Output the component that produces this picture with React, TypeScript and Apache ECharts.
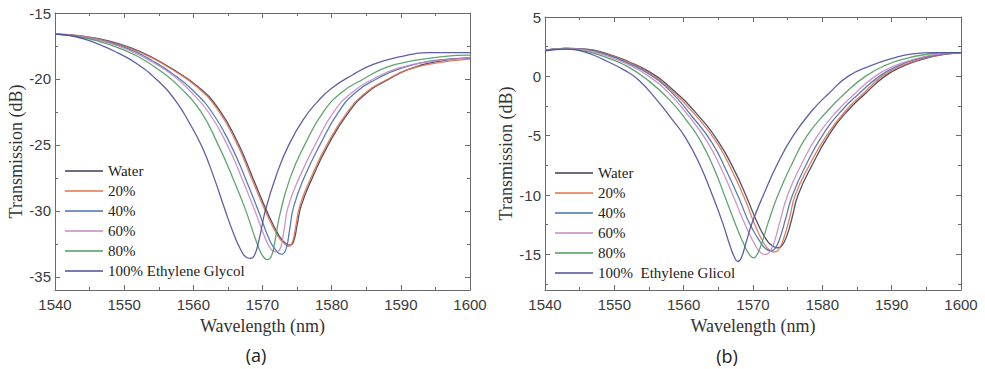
import React, { useEffect, useRef } from "react";
import * as echarts from "echarts";

// ---------- data (wavelength nm, transmission dB) ----------
const namesA = ["Water", "20%", "40%", "60%", "80%", "100% Ethylene Glycol"];
const namesB = ["Water", "20%", "40%", "60%", "80%", "100%  Ethylene Glicol"];
const colors = ["#3d3d55", "#e2704a", "#4670b0", "#c68ac0", "#4f9a5e", "#4e4e9a"];

const xTicks = [1540, 1550, 1560, 1570, 1580, 1590, 1600];
const yMajorA = [-35, -30, -25, -20, -15];
const yMinorA = [-35, -32.5, -30, -27.5, -25, -22.5, -20, -17.5, -15];
const yMajorB = [-15, -10, -5, 0, 5];
const yMinorB = [-17.5, -15, -12.5, -10, -7.5, -5, -2.5, 0, 2.5, 5];

// Panel (a)
const waterA: [number, number][] = [[1540,-16.6],[1544,-16.75],[1548,-17.15],[1551,-17.65],[1554,-18.35],[1557,-19.25],[1560.7,-20.6],[1563.7,-22.3],[1566.4,-24.8],[1568.6,-27.5],[1570.6,-30.0],[1572.4,-31.9],[1573.4,-32.5],[1574.0,-32.6],[1574.5,-32.3],[1575.0,-31.1],[1575.6,-29.6],[1577.2,-27.5],[1579.5,-25.0],[1582.5,-22.5],[1585.2,-21.0],[1588,-20.1],[1591,-19.3],[1595,-18.7],[1600,-18.4]];
const p20A: [number, number][] = [[1540,-16.6],[1544,-16.75],[1548,-17.2],[1551,-17.7],[1554,-18.4],[1557,-19.3],[1560.5,-20.6],[1563.5,-22.3],[1566.2,-24.8],[1568.4,-27.5],[1570.4,-30.0],[1572.2,-31.9],[1573.2,-32.5],[1573.8,-32.7],[1574.3,-32.4],[1574.8,-31.2],[1575.4,-29.6],[1577.0,-27.5],[1579.3,-25.0],[1582.3,-22.5],[1585,-21.0],[1587.8,-20.1],[1591,-19.3],[1595,-18.8],[1600,-18.5]];
const p40A: [number, number][] = [[1540,-16.6],[1544,-16.8],[1548,-17.25],[1551,-17.8],[1554,-18.6],[1557,-19.6],[1560,-20.9],[1562.8,-22.6],[1565.4,-25.0],[1567.5,-27.5],[1569.4,-30.0],[1571.1,-32.3],[1572.1,-33.1],[1572.8,-33.3],[1573.4,-32.9],[1573.9,-31.5],[1574.5,-29.7],[1576.0,-27.5],[1578.3,-25.0],[1581,-22.5],[1583.5,-21.0],[1586.5,-20.0],[1590,-19.2],[1595,-18.6],[1600,-18.4]];
const p60A: [number, number][] = [[1540,-16.6],[1544,-16.8],[1548,-17.3],[1551,-17.9],[1554,-18.7],[1557,-19.7],[1559.5,-20.9],[1562.3,-22.6],[1564.9,-25.0],[1567.0,-27.5],[1568.9,-30.0],[1570.5,-32.2],[1571.4,-33.0],[1572.0,-33.1],[1572.6,-32.8],[1573.1,-31.5],[1573.7,-29.7],[1575.3,-27.5],[1577.6,-25.0],[1580.3,-22.5],[1583,-21.0],[1586,-20.0],[1589.5,-19.2],[1594,-18.7],[1600,-18.4]];
const p80A: [number, number][] = [[1540,-16.6],[1543,-16.75],[1546,-17.1],[1549,-17.6],[1552,-18.3],[1555,-19.3],[1558,-20.6],[1561,-22.4],[1563.6,-25.0],[1565.7,-27.5],[1567.6,-30.0],[1569.1,-32.3],[1570.0,-33.4],[1570.7,-33.7],[1571.3,-33.4],[1571.8,-32.3],[1572.5,-30.3],[1574,-27.5],[1576.1,-25.0],[1578.8,-22.5],[1581.5,-21.0],[1584.6,-20.0],[1588,-19.1],[1592,-18.6],[1596,-18.3],[1600,-18.2]];
const p100A: [number, number][] = [[1540,-16.6],[1543,-16.8],[1546,-17.3],[1549,-18.0],[1552,-18.9],[1555,-20.2],[1557.5,-21.7],[1559.5,-23.4],[1561.3,-25.2],[1563,-27.5],[1564.5,-29.8],[1565.8,-31.7],[1566.9,-33.0],[1567.6,-33.5],[1568.2,-33.6],[1568.8,-33.4],[1569.5,-32.2],[1570.4,-30.0],[1572,-27.3],[1573.8,-25.0],[1576,-23.0],[1578,-21.7],[1580,-20.7],[1583,-19.7],[1586,-18.9],[1590,-18.3],[1594,-18.0],[1600,-18.0]];

// Panel (b)
const waterB: [number, number][] = [[1540,2.2],[1543,2.35],[1546,2.3],[1549,1.9],[1552,1.25],[1555,0.4],[1558,-0.9],[1561.8,-3.1],[1565.0,-5.5],[1567.3,-7.9],[1569.1,-10.2],[1570.6,-12.3],[1572.1,-13.9],[1573.0,-14.35],[1573.6,-14.45],[1574.2,-14.25],[1574.9,-13.4],[1575.6,-12.0],[1576.5,-10.0],[1578.6,-7.4],[1580.9,-5.0],[1583.5,-3.0],[1586.3,-1.4],[1589.0,0.0],[1591.8,0.9],[1594.8,1.5],[1597.6,1.85],[1600,2.0]];
const p20B: [number, number][] = [[1540,2.2],[1543,2.35],[1546,2.25],[1549,1.85],[1552,1.2],[1555,0.3],[1558,-1.05],[1561.6,-3.2],[1564.8,-5.6],[1567.0,-8.0],[1568.8,-10.3],[1570.2,-12.4],[1571.6,-14.1],[1572.5,-14.7],[1573.1,-14.8],[1573.7,-14.6],[1574.4,-13.7],[1575.2,-12.1],[1576.1,-10.0],[1578.2,-7.4],[1580.6,-5.0],[1583.2,-3.0],[1586,-1.4],[1588.6,0.0],[1591.5,0.9],[1594.5,1.5],[1597.5,1.85],[1600,2.0]];
const p40B: [number, number][] = [[1540,2.2],[1543,2.35],[1546,2.25],[1549,1.8],[1552,1.1],[1555,0.2],[1558,-1.2],[1561.1,-3.3],[1564.1,-5.6],[1566.2,-8.0],[1568.0,-10.3],[1569.5,-12.4],[1571.1,-14.0],[1572.0,-14.6],[1572.6,-14.7],[1573.2,-14.5],[1573.9,-13.6],[1574.7,-12.0],[1575.7,-10.0],[1577.7,-7.4],[1580.0,-5.0],[1582.6,-3.0],[1585.4,-1.4],[1588.2,0.0],[1591,0.9],[1594,1.5],[1597,1.85],[1600,2.0]];
const p60B: [number, number][] = [[1540,2.2],[1543,2.35],[1546,2.2],[1549,1.7],[1552,1.0],[1555,0.0],[1558,-1.5],[1560.8,-3.4],[1563.5,-5.6],[1565.6,-8.0],[1567.3,-10.3],[1568.8,-12.4],[1570.4,-14.3],[1571.2,-14.9],[1571.8,-15.0],[1572.4,-14.8],[1573.1,-13.9],[1573.9,-12.2],[1575.0,-10.0],[1577.0,-7.4],[1579.3,-5.0],[1582,-3.0],[1584.8,-1.4],[1587.6,0.0],[1590.5,0.9],[1593.5,1.5],[1596.5,1.85],[1600,2.0]];
const p80B: [number, number][] = [[1540,2.2],[1543,2.3],[1546,2.1],[1549,1.55],[1552,0.8],[1555,-0.4],[1558,-2.0],[1560.4,-3.7],[1562.4,-5.4],[1564.4,-7.8],[1566.0,-10.2],[1567.5,-12.5],[1568.8,-14.3],[1569.6,-15.1],[1570.1,-15.3],[1570.6,-15.0],[1571.3,-14.0],[1572.2,-12.3],[1573.6,-10.0],[1575.6,-7.4],[1577.8,-5.0],[1580.6,-3.0],[1583.3,-1.4],[1586.2,0.0],[1589,0.9],[1592,1.5],[1595,1.85],[1598,2.0],[1600,2.0]];
const p100B: [number, number][] = [[1540,2.15],[1543,2.3],[1546,2.0],[1549,1.25],[1551.5,0.5],[1553.5,-0.3],[1556,-1.9],[1558.3,-3.6],[1560.3,-5.2],[1562.3,-7.4],[1564.2,-10.1],[1565.6,-12.3],[1566.7,-14.3],[1567.3,-15.2],[1567.8,-15.6],[1568.3,-15.3],[1568.9,-14.2],[1569.9,-12.3],[1571.5,-10.0],[1573.5,-7.4],[1575.8,-5.0],[1578.5,-2.9],[1581,-1.4],[1583.7,0.0],[1587,0.9],[1590,1.5],[1593,1.9],[1596,2.0],[1600,2.0]];

const dataA = [waterA, p20A, p40A, p60A, p80A, p100A];
const dataB = [waterB, p20B, p40B, p60B, p80B, p100B];

const AXIS_COLOR = "#6a6a6a";
const LABEL_FONT = "'Liberation Sans', Arial, sans-serif";
const SERIF = "'Liberation Serif', 'Times New Roman', serif";

function xAxes(gridIndex: number, name: string) {
  const common = {
    type: "value" as const,
    gridIndex,
    min: 1540,
    max: 1600,
    interval: 10,
    splitLine: { show: false },
    axisLine: { onZero: false, lineStyle: { color: AXIS_COLOR, width: 1 } },
    axisTick: { inside: true, length: 5, lineStyle: { color: AXIS_COLOR } },
    minorTick: { show: true, splitNumber: 2, length: 3, lineStyle: { color: AXIS_COLOR } },
  };
  return [
    {
      ...common,
      position: "bottom",
      axisLabel: {
        fontFamily: LABEL_FONT,
        fontSize: 15,
        color: "#3a3a3a",
        margin: 7,
        customValues: xTicks,
        formatter: (v: number) => String(v),
      },
      name,
      nameLocation: "middle",
      nameGap: 23,
      nameTextStyle: { fontFamily: SERIF, fontSize: 18, color: "#333" },
    },
    { ...common, position: "top", axisLabel: { show: false } },
  ];
}

function yAxes(gridIndex: number, min: number, max: number, majors: number[], minors: number[]) {
  const common = {
    type: "value" as const,
    gridIndex,
    min,
    max,
    splitLine: { show: false },
    minorTick: { show: false },
  };
  const minorOnly = minors.filter((v) => majors.indexOf(v) < 0);
  return [
    {
      ...common,
      position: "left",
      axisLine: { show: true, onZero: false, lineStyle: { color: AXIS_COLOR, width: 1 } },
      axisTick: { inside: true, length: 5, customValues: majors, lineStyle: { color: AXIS_COLOR } },
      axisLabel: {
        fontFamily: LABEL_FONT,
        fontSize: 15,
        color: "#3a3a3a",
        margin: 4,
        customValues: majors,
        formatter: (v: number) => String(v),
      },
      name: "Transmission (dB)",
      nameLocation: "middle",
      nameRotate: 90,
      nameGap: 29,
      nameTextStyle: { fontFamily: SERIF, fontSize: 18, color: "#333" },
    },
    {
      ...common,
      position: "left",
      axisLine: { show: false, onZero: false },
      axisTick: { inside: true, length: 3, customValues: minorOnly, lineStyle: { color: AXIS_COLOR } },
      axisLabel: { show: false },
    },
    {
      ...common,
      position: "right",
      axisLine: { show: true, onZero: false, lineStyle: { color: AXIS_COLOR, width: 1 } },
      axisTick: { inside: true, length: 5, customValues: majors, lineStyle: { color: AXIS_COLOR } },
      axisLabel: { show: false },
    },
    {
      ...common,
      position: "right",
      axisLine: { show: false, onZero: false },
      axisTick: { inside: true, length: 3, customValues: minorOnly, lineStyle: { color: AXIS_COLOR } },
      axisLabel: { show: false },
    },
  ];
}

function legendFor(left: number, top: number, names: string[]) {
  return {
    orient: "vertical" as const,
    left,
    top,
    icon: "rect",
    itemWidth: 38,
    itemHeight: 1.6,
    itemGap: 0,
    padding: 0,
    selectedMode: false,
    textStyle: { fontFamily: SERIF, fontSize: 15, lineHeight: 20, color: "#222" },
    data: names,
  };
}

export default function App() {
  const ref = useRef<HTMLDivElement>(null);

  useEffect(() => {
    if (!ref.current) return;
    const chart = echarts.init(ref.current, undefined, { renderer: "svg" });

    const series: any[] = [];
    const mk = (name: string, d: [number, number][], i: number, xi: number, yi: number) => ({
      type: "line",
      name,
      xAxisIndex: xi,
      yAxisIndex: yi,
      data: d,
      symbol: "none",
      smooth: 0.5,
      lineStyle: { width: 1.3, color: colors[i], opacity: 0.9 },
      itemStyle: { color: colors[i] },
    });
    dataA.forEach((d, i) => series.push(mk(namesA[i], d, i, 0, 0)));
    dataB.forEach((d, i) => series.push(mk(namesB[i], d, i, 2, 4)));

    chart.setOption({
      animation: false,
      backgroundColor: "#ffffff",
      grid: [
        { left: 55, top: 13, width: 415, height: 277 },
        { left: 545, top: 17, width: 416, height: 273 },
      ],
      xAxis: [...xAxes(0, "Wavelength (nm)"), ...xAxes(1, "Wavelength (nm)")],
      yAxis: [
        ...yAxes(0, -36, -15, yMajorA, yMinorA),
        ...yAxes(1, -18, 5, yMajorB, yMinorB),
      ],
      legend: [legendFor(65, 161, namesA), legendFor(555, 163, namesB)],
      series,
      graphic: [
        {
          type: "text",
          x: 256,
          y: 355,
          style: {
            text: "(a)",
            fontFamily: "'Open Sans', 'Liberation Sans', sans-serif",
            fontSize: 18,
            fill: "#222",
            textAlign: "center",
            textVerticalAlign: "middle",
          },
        },
        {
          type: "text",
          x: 727,
          y: 356,
          style: {
            text: "(b)",
            fontFamily: "'Open Sans', 'Liberation Sans', sans-serif",
            fontSize: 18,
            fill: "#222",
            textAlign: "center",
            textVerticalAlign: "middle",
          },
        },
      ],
    });

    return () => chart.dispose();
  }, []);

  return (
    <div
      ref={ref}
      style={{ position: "absolute", left: 0, top: 0, width: 985, height: 369, background: "#fff" }}
    />
  );
}
